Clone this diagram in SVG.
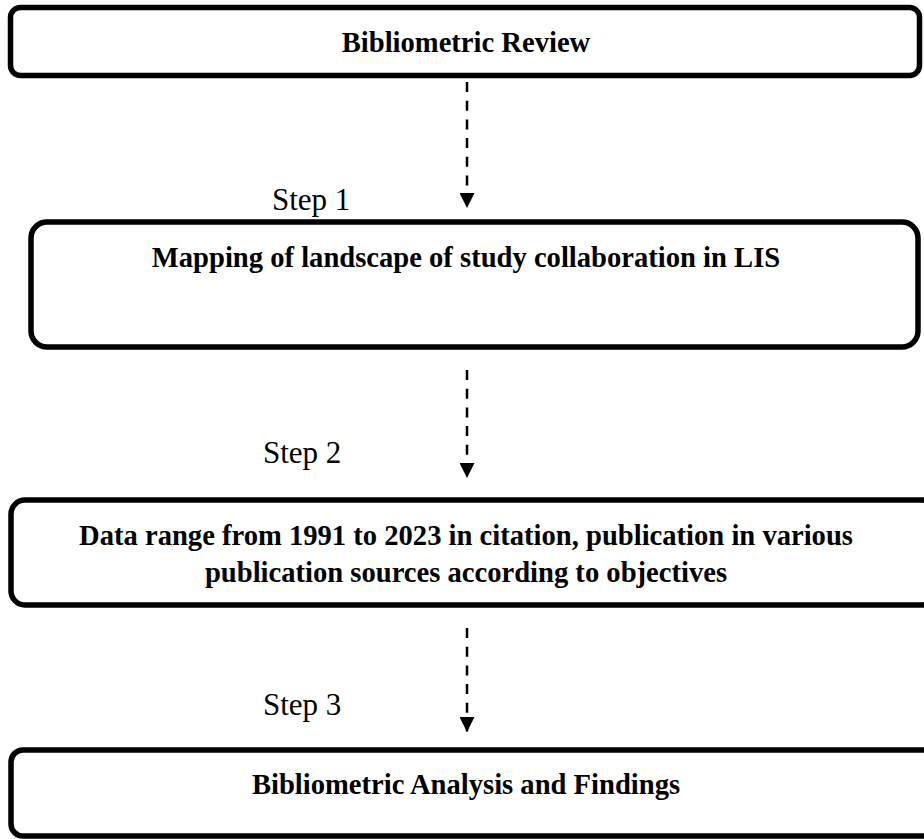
<svg xmlns="http://www.w3.org/2000/svg" width="924" height="839" viewBox="0 0 924 839">
<defs>
<style>
.box{fill:#fff;stroke:#000;stroke-width:5.5}
.t{font-family:"Liberation Serif","Times New Roman",serif;font-weight:bold;font-size:28.6px;fill:#000;text-anchor:middle}
.s{font-family:"Liberation Serif","Times New Roman",serif;font-size:31px;fill:#000}
.c{stroke:#000;stroke-width:2.5;stroke-dasharray:10 8.7;fill:none}
</style>
<marker id="ah" viewBox="0 0 15 15" refX="15" refY="7.5" markerWidth="15" markerHeight="15" markerUnits="userSpaceOnUse" orient="auto">
<path d="M0,0 L15,7.5 L0,15 Z" fill="#000"/>
</marker>
</defs>
<g id="n1"><rect class="box" x="10.5" y="7.5" width="909" height="68" rx="10"/><text class="t" x="466" y="52">Bibliometric Review</text></g>
<g id="n2"><rect class="box" x="31" y="222" width="887" height="125" rx="16"/><text class="t" x="466" y="267">Mapping of landscape of study collaboration in LIS</text></g>
<g id="n3"><rect class="box" x="11" y="500" width="925" height="105" rx="14"/><text class="t" x="466" y="545">Data range from 1991 to 2023 in citation, publication in various</text><text class="t" x="466" y="582">publication sources according to objectives</text></g>
<g id="n4"><rect class="box" x="11" y="750" width="925" height="86" rx="12"/><text class="t" x="466" y="794">Bibliometric Analysis and Findings</text></g>
<g id="labels"><text class="s" x="272" y="210">Step 1</text><text class="s" x="263" y="463">Step 2</text><text class="s" x="263" y="715">Step 3</text></g>
<g id="connectors">
<line class="c" x1="467" y1="82" x2="467" y2="208" marker-end="url(#ah)"/>
<line class="c" x1="467" y1="370" x2="467" y2="478" marker-end="url(#ah)"/>
<line class="c" x1="467" y1="628" x2="467" y2="732" marker-end="url(#ah)"/>
</g>
</svg>
